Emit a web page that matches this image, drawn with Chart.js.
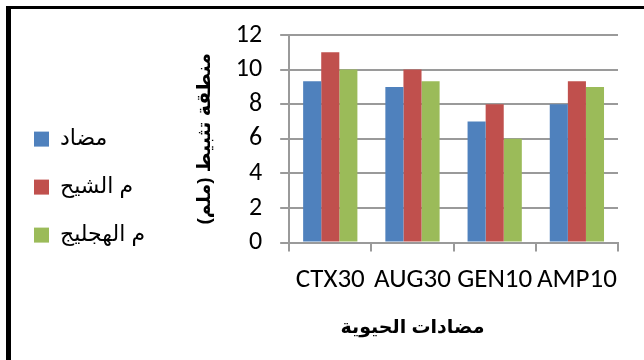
<!DOCTYPE html>
<html>
<head>
<meta charset="utf-8">
<script src="https://cdn.jsdelivr.net/npm/chart.js@4"></script>
<style>
  html, body { margin: 0; padding: 0; background: #fff; }
  #wrap { position: relative; width: 644px; height: 360px; overflow: hidden; }
  #frame { position: absolute; left: 6px; top: 6px; width: 700px; height: 400px;
           border-top: 3px solid #000; border-left: 5px solid #000; pointer-events: none; }
  canvas { position: absolute; left: 0; top: 0; }
</style>
</head>
<body>
<div id="wrap">
  <canvas id="c" width="644" height="360"></canvas>
  <div id="frame"></div>
</div>
<script>
// Antibiotic discs and inhibition zone diameters (mm)
const categories = ['CTX30', 'AUG30', 'GEN10', 'AMP10'];
const seriesNames = ['مضاد', 'م الشيح', 'م الهجليج'];
const antibioticOnly = [9.33, 9, 7, 8];
const withShih = [11, 10, 8, 9.33];
const withHajlij = [10, 9.33, 6, 9];
const yTicks = [0, 2, 4, 6, 8, 10, 12];
const xTitle = 'مضادات الحيوية';
const yTitle = 'منطقة تثبيط (ملم)';

const colors = ['#4F81BD', '#C0504D', '#9BBB59'];
const values = [antibioticOnly, withShih, withHajlij];

const latin = "Calibri, Carlito, 'Liberation Sans', Arial, sans-serif";
const arabic = "Arial, 'Liberation Sans', 'DejaVu Sans', sans-serif";
const gridColor = '#9a9a9a';
const xTitleFont = 'bold 19px ' + arabic;

// Category-axis title sits a little left of centre, under the second group
const xTitlePlugin = {
  id: 'xTitle',
  afterDraw(chart) {
    const { ctx, chartArea } = chart;
    const xs = chart.scales.x;
    ctx.save();
    ctx.font = xTitleFont;
    ctx.fillStyle = '#000';
    ctx.textAlign = 'center';
    ctx.textBaseline = 'middle';
    const cx = chartArea.left + (chartArea.right - chartArea.left) * 0.375;
    ctx.fillText(xTitle, cx, xs.bottom - 10);
    ctx.restore();
  }
};

new Chart(document.getElementById('c'), {
  type: 'bar',
  data: {
    labels: categories,
    datasets: seriesNames.map((name, i) => ({
      label: name,
      data: values[i],
      backgroundColor: colors[i],
      borderWidth: 0,
      categoryPercentage: 0.66,
      barPercentage: 1.0
    }))
  },
  plugins: [xTitlePlugin],
  options: {
    responsive: false,
    animation: false,
    devicePixelRatio: 1,
    layout: { padding: { left: 8, right: 26, top: 35, bottom: 22 } },
    plugins: {
      tooltip: { enabled: false },
      legend: {
        position: 'left',
        align: 'center',
        title: { display: true, text: ' ', font: { size: 1 }, padding: 0 },
        labels: {
          boxWidth: 15,
          boxHeight: 15,
          padding: 26,
          color: '#000',
          font: { family: arabic, size: 22 }
        }
      }
    },
    scales: {
      x: {
        offset: true,
        grid: {
          offset: true,
          drawOnChartArea: false,
          drawTicks: true,
          tickLength: 9,
          color: gridColor,
          lineWidth: 2
        },
        border: { color: gridColor, width: 2 },
        ticks: {
          color: '#000',
          font: { family: latin, size: 27 },
          maxRotation: 0,
          minRotation: 0,
          autoSkip: false,
          padding: 12
        },
        afterFit(scale) { scale.height += 30; }
      },
      y: {
        min: 0,
        max: 12,
        afterBuildTicks: (scale) => { scale.ticks = yTicks.map(v => ({ value: v })); },
        grid: {
          color: gridColor,
          lineWidth: 2,
          drawTicks: true,
          tickLength: 9
        },
        border: { color: gridColor, width: 2 },
        ticks: {
          color: '#000',
          font: { family: latin, size: 26 },
          autoSkip: false,
          padding: 18
        },
        title: {
          display: true,
          text: yTitle,
          color: '#000',
          font: { family: arabic, size: 19, weight: 'bold' },
          padding: { top: 38, bottom: 2 }
        }
      }
    }
  }
});
</script>
</body>
</html>
